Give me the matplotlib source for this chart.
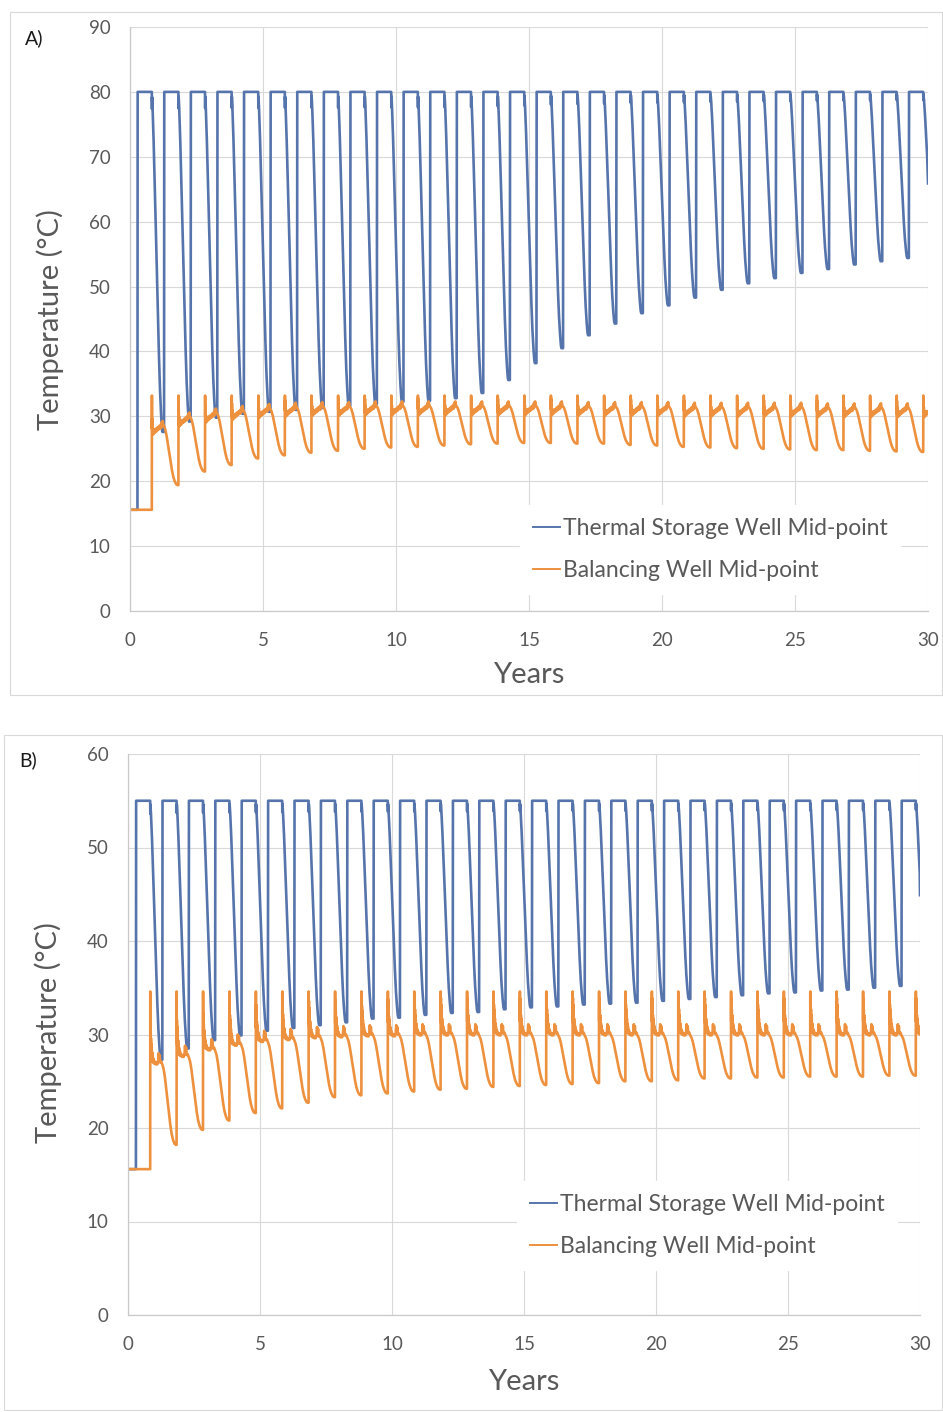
import numpy as np
import matplotlib.pyplot as plt
from matplotlib.patches import Rectangle

W, H = 943, 1412
plt.rcParams['font.family'] = ['Lato', 'DejaVu Sans']

# ---------------- data ----------------
initial_temp = 15.6
x_ticks = [0, 5, 10, 15, 20, 25, 30]
y_ticks_a = [0, 10, 20, 30, 40, 50, 60, 70, 80, 90]
y_ticks_b = [0, 10, 20, 30, 40, 50, 60]
series_names = ['Thermal Storage Well Mid-point', 'Balancing Well Mid-point']

# panel A (80 C storage)
storage_top_a = 80.0
storage_min_a = [27.6, 29.2, 29.8, 30.4, 30.7, 31.0, 31.3, 31.6, 31.9, 32.25,
                 32.4, 32.8, 33.6, 35.6, 38.2, 40.5, 42.5, 44.3, 45.9, 47.1,
                 48.3, 49.5, 50.5, 51.3, 52.1, 52.7, 53.4, 53.9, 54.4]
storage_end_a = 65.9
balancing_peak_a = 33.2
balancing_mid_a = [27.1, 28.4, 29.0, 29.4, 29.7, 29.9, 30.0, 30.0, 30.1, 30.1,
                   30.1, 30.1, 30.1, 30.1, 30.1, 30.1, 30.0, 30.0, 30.0, 30.0,
                   29.9, 29.9, 29.9, 29.9, 29.9, 29.8, 29.8, 29.8, 29.8, 29.8]
balancing_min_a = [19.4, 21.5, 22.5, 23.5, 24.0, 24.4, 24.7, 25.0, 25.2, 25.3,
                   25.5, 25.7, 25.8, 25.9, 25.9, 25.8, 25.8, 25.6, 25.5, 25.3,
                   25.2, 25.1, 25.0, 24.9, 24.8, 24.8, 24.7, 24.6, 24.5]
balancing_end_a = 30.6

# panel B (55 C storage)
storage_top_b = 55.0
storage_min_b = [27.3, 28.5, 29.4, 29.9, 30.4, 30.7, 31.0, 31.3, 31.7, 31.8,
                 32.1, 32.3, 32.4, 32.7, 32.9, 33.0, 33.2, 33.3, 33.4, 33.6,
                 33.8, 34.0, 34.2, 34.4, 34.5, 34.7, 34.8, 35.0, 35.2]
storage_end_b = 44.9
balancing_peak_b = 34.6
balancing_mid_b = [26.8, 27.6, 28.3, 28.8, 29.2, 29.4, 29.6, 29.7, 29.8, 29.8,
                   29.9, 29.9, 29.9, 29.9, 29.9, 29.9, 29.9, 29.9, 29.9, 29.9,
                   29.9, 29.9, 29.9, 29.9, 29.9, 29.9, 29.9, 29.9, 29.9, 29.9]
balancing_min_b = [18.2, 19.8, 20.8, 21.6, 22.1, 22.7, 23.3, 23.5, 23.7, 23.9,
                   24.1, 24.2, 24.4, 24.5, 24.6, 24.7, 24.8, 25.0, 25.0, 25.1,
                   25.3, 25.3, 25.4, 25.4, 25.5, 25.5, 25.5, 25.6, 25.6]
balancing_end_b = 30.8

# yearly cycle shapes (phase in years, fraction of the drop)
storage_phase = [0.008, 0.54, 0.545, 0.55, 0.57, 0.61, 0.65, 0.69, 0.73, 0.77,
                 0.81, 0.85, 0.89, 0.92, 0.94, 0.99]
storage_frac = [0.0, 0.0, 0.05, 0.015, 0.05, 0.15, 0.27, 0.40, 0.53, 0.66,
                0.78, 0.88, 0.95, 0.99, 1.0, 1.0]

# after-injection wiggles of the balancing well (phase, degrees above mid);
# the first point of each list is the spike that reaches the panel peak
bal_phase_a = [0.004, 0.008, 0.012, 0.018, 0.024, 0.03, 0.04, 0.05, 0.06, 0.08,
               0.10, 0.12, 0.15, 0.18, 0.21, 0.24, 0.27, 0.30, 0.33, 0.35,
               0.37, 0.39, 0.41, 0.43, 0.45]
bal_offset_a = [None, 1.0, 2.6, 0.4, 1.6, 0.2, 1.0, 0.1, 0.7, 0.3,
                0.9, 0.4, 1.0, 0.6, 1.2, 0.8, 1.4, 1.0, 1.6, 1.1,
                2.0, 1.4, 2.2, 1.6, 1.5]
bal_phase_b = [0.004, 0.008, 0.012, 0.016, 0.02, 0.025, 0.03, 0.036, 0.042, 0.05,
               0.058, 0.066, 0.075, 0.085, 0.095, 0.11, 0.13, 0.15, 0.18, 0.21,
               0.24, 0.27, 0.30, 0.32, 0.34, 0.36, 0.38, 0.42, 0.46]
bal_offset_b = [None, 1.5, 4.0, 2.0, 3.3, 1.2, 2.8, 0.8, 2.2, 0.6,
                1.8, 0.4, 1.3, 0.3, 1.0, 0.2, 0.6, 0.1, 0.3, 0.0,
                0.2, 0.0, 0.3, 1.2, 0.4, 1.0, 0.2, 0.3, 0.0]
decline_p = [0.1, 0.2, 0.3, 0.4, 0.5, 0.6, 0.7, 0.8, 0.9, 1.0]
decline_frac = [0.06, 0.17, 0.32, 0.48, 0.63, 0.76, 0.87, 0.94, 0.985, 1.0]
decline_end = 0.97

blue = '#5674AC'
orange = '#EE913F'
grey_txt = '#595959'


def storage_series(rise0, top, mins, end_val):
    t, T = [0.0], [initial_temp]
    prev = initial_temp
    for k in range(30):
        r = rise0 + k
        lo = mins[k] if k < len(mins) else mins[-1] + 0.5
        t.append(r)
        T.append(prev)
        for ph, fr in zip(storage_phase, storage_frac):
            t.append(r + ph)
            T.append(top - fr * (top - lo))
        prev = lo
    t, T = np.array(t), np.array(T)
    keep = t < 30
    return np.append(t[keep], 30), np.append(T[keep], end_val)


def balancing_series(jump0, peak, ph_list, off_list, mids, mins, end_val):
    t, T = [0.0], [initial_temp]
    prev = initial_temp
    for k in range(30):
        j = jump0 + k
        mid = mids[k]
        lo = mins[k] if k < len(mins) else mins[-1]
        t.append(j)
        T.append(prev)
        for ph, off in zip(ph_list, off_list):
            t.append(j + ph)
            T.append(peak if off is None else min(mid + off, peak - 0.2))
        d0 = ph_list[-1]
        v0 = mid + off_list[-1]
        for p, fr in zip(decline_p, decline_frac):
            t.append(j + d0 + p * (decline_end - d0))
            T.append(v0 - fr * (v0 - lo))
        prev = lo
    t, T = np.array(t), np.array(T)
    keep = t < 30
    return np.append(t[keep], 30), np.append(T[keep], end_val)


fig = plt.figure(figsize=(W / 100, H / 100), dpi=100)


def px_rect(l, t, r, b):
    return [l / W, 1 - b / H, (r - l) / W, (b - t) / H]


def panel(box, border, ymax, yticks, st, bal, legend_box, letter, ylab_xy, xlab_xy):
    fig.add_artist(Rectangle((border[0] / W, 1 - border[3] / H),
                             (border[2] - border[0]) / W, (border[3] - border[1]) / H,
                             transform=fig.transFigure, fill=False,
                             edgecolor='#d9d9d9', lw=0.8))
    ax = fig.add_axes(px_rect(*box))
    ax.plot(st[0], st[1], color=blue, lw=1.9, label=series_names[0], solid_joinstyle='round')
    ax.plot(bal[0], bal[1], color=orange, lw=1.9, label=series_names[1], solid_joinstyle='round')
    ax.set_xlim(0, 30)
    ax.set_ylim(0, ymax)
    ax.set_xticks(x_ticks)
    ax.set_yticks(yticks)
    ax.grid(True, color='#d9d9d9', lw=0.8)
    ax.set_axisbelow(True)
    for s in ['top', 'right']:
        ax.spines[s].set_visible(False)
    for s in ['left', 'bottom']:
        ax.spines[s].set_color('#c9c9c9')
        ax.spines[s].set_linewidth(0.9)
    ax.tick_params(length=0, labelsize=13.5, labelcolor=grey_txt)
    ax.tick_params(axis='y', pad=14)
    ax.tick_params(axis='x', pad=15)
    leg = ax.legend(loc='upper left',
                    bbox_to_anchor=(legend_box[0] / W, 1 - legend_box[1] / H),
                    bbox_transform=fig.transFigure, borderaxespad=0,
                    fontsize=16.5, frameon=True, fancybox=False,
                    handlelength=1.18, handletextpad=0.13, labelspacing=0.95,
                    borderpad=0.55)
    leg.get_frame().set_edgecolor('white')
    leg.get_frame().set_alpha(1)
    for txt in leg.get_texts():
        txt.set_color(grey_txt)
    for ln in leg.get_lines():
        ln.set_linewidth(1.4)
    fig.text(letter[0] / W, 1 - letter[1] / H, letter[2], fontsize=14,
             color='#1a1a1a', ha='center', va='center')
    fig.text(ylab_xy[0] / W, 1 - ylab_xy[1] / H, 'Temperature (°C)', fontsize=21,
             color=grey_txt, rotation=90, ha='center', va='center')
    fig.text(xlab_xy[0] / W, 1 - xlab_xy[1] / H, 'Years', fontsize=21,
             color=grey_txt, ha='center', va='center')
    return ax


st_a = storage_series(0.28, storage_top_a, storage_min_a, storage_end_a)
bal_a = balancing_series(0.82, balancing_peak_a, bal_phase_a, bal_offset_a,
                         balancing_mid_a, balancing_min_a, balancing_end_a)
st_b = storage_series(0.30, storage_top_b, storage_min_b, storage_end_b)
bal_b = balancing_series(0.84, balancing_peak_b, bal_phase_b, bal_offset_b,
                         balancing_mid_b, balancing_min_b, balancing_end_b)

panel((130, 27, 928, 611), (10, 12, 942, 695), 90, y_ticks_a, st_a, bal_a,
      (520, 505), (34, 38, 'A)'), (50, 320), (529, 675))
panel((128, 754, 920, 1315), (4, 735, 942, 1410), 60, y_ticks_b, st_b, bal_b,
      (517, 1181), (28, 760, 'B)'), (48, 1033), (524, 1382))

fig.savefig('out.png', dpi=100)
